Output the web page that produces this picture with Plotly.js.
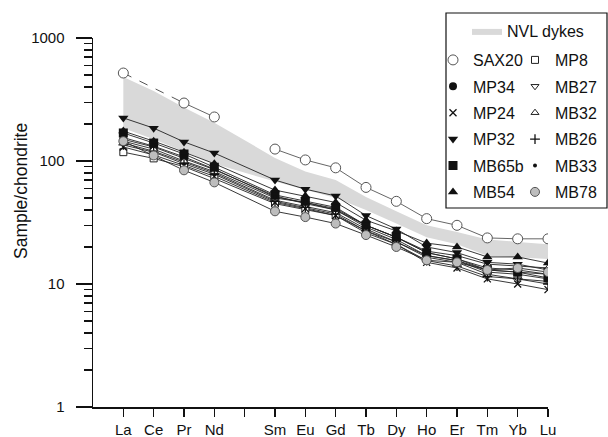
<!DOCTYPE html>
<html><head><meta charset="utf-8">
<script src="https://cdn.plot.ly/plotly-3.0.1.min.js"></script>
<style>html,body{margin:0;padding:0;background:#fff}#chart{width:608px;height:437px}</style>
</head><body><div id="chart"></div>
<script>
// ---- data ----
const elements   = ['La','Ce','Pr','Nd','Pm','Sm','Eu','Gd','Tb','Dy','Ho','Er','Tm','Yb','Lu'];
const tickLabels = ['La','Ce','Pr','Nd','','Sm','Eu','Gd','Tb','Dy','Ho','Er','Tm','Yb','Lu'];
const nvlUpper = [482,370,272,205,null,106,82,70,51,39,30,26.5,23,22,21];
const nvlLower = [185,150,120,95,null,68,58,50,40,31,24,21,17,16.5,16];
const SAX20 = [519,null,296,228,null,125,102,88,61,47,34,30,23.7,23.3,23.3];
const MP8   = [118,105,90,72,null,45,40,36,27,22,17,15.5,13,12.5,12];
const MP34  = [150,130,105,85,null,52,45,40,30,24,18,16,13.5,13,12];
const MB27  = [140,120,98,80,null,48,43,38,28,22,16.5,15,12,11,10.5];
const MP24  = [130,112,92,75,null,46,41,36,26,21,15,13.5,11,10,9];
const MB32  = [145,125,100,82,null,50,46,41,30,24,18.5,17,14.5,14,13.5];
const MP32  = [224,185,143,116,null,70,59,52,36,28,20,18,15,14.5,13];
const MB26  = [135,118,95,78,null,47,42,37,27,21,15.5,14,11.5,11,10];
const MB65b = [169,140,114,89,null,53,47,42,30,24,18,16,13,12.5,11.2];
const MB33  = [155,132,108,86,null,51,46,40,29,23,17,15.5,12.5,12,11];
const MB54  = [175,145,118,95,null,58,52,46,33,27,21.5,20,16.6,16.6,14.8];
const MB78  = [145,111,84,67,null,39,35,31,25,20,15.6,15,13,13.5,12.5];

// ---- styles ----
const FONT = 'Liberation Sans, Arial, Helvetica, sans-serif';
const samples = [
  {name:'SAX20', y:SAX20, leg:'legend2', sym:'circle', size:10, fill:'#ffffff', lc:'#555', lw:1},
  {name:'MP8',   y:MP8,   leg:'legend3', sym:'square', size:7, fill:'#ffffff', lc:'#222', lw:1},
  {name:'MP34',  y:MP34,  leg:'legend2', sym:'circle', size:8, fill:'#111', lc:'#111', lw:0},
  {name:'MB27',  y:MB27,  leg:'legend3', sym:'triangle-down', size:7, fill:'#ffffff', lc:'#222', lw:1},
  {name:'MP24',  y:MP24,  leg:'legend2', sym:'x-thin-open', size:7, fill:'#111', lc:'#111', lw:1.3},
  {name:'MB32',  y:MB32,  leg:'legend3', sym:'triangle-up', size:7, fill:'#ffffff', lc:'#222', lw:1},
  {name:'MP32',  y:MP32,  leg:'legend2', sym:'triangle-down', size:9, fill:'#111', lc:'#111', lw:0},
  {name:'MB26',  y:MB26,  leg:'legend3', sym:'cross-thin-open', size:7, fill:'#111', lc:'#111', lw:1.3},
  {name:'MB65b', y:MB65b, leg:'legend2', sym:'square', size:9, fill:'#111', lc:'#111', lw:0},
  {name:'MB33',  y:MB33,  leg:'legend3', sym:'circle', size:4, fill:'#111', lc:'#111', lw:0},
  {name:'MB54',  y:MB54,  leg:'legend2', sym:'triangle-up', size:9, fill:'#111', lc:'#111', lw:0},
  {name:'MB78',  y:MB78,  leg:'legend3', sym:'circle', size:9, fill:'#bdbdbd', lc:'#555', lw:1}
];

const traces = [];
// NVL band polygon built from the bound arrays
const bx = [], by = [];
elements.forEach((e,i)=>{ if(nvlUpper[i]!=null){ bx.push(e); by.push(nvlUpper[i]); } });
for(let i=elements.length-1;i>=0;i--){ if(nvlLower[i]!=null){ bx.push(elements[i]); by.push(nvlLower[i]); } }
traces.push({type:'scatter', mode:'lines', x:bx, y:by, fill:'toself', fillcolor:'#d9d9d9',
  line:{width:0, color:'#d9d9d9'}, name:'NVL dykes', legend:'legend', showlegend:true, hoverinfo:'skip'});

// dashed link over the missing Ce value of SAX20
const gapIdx = [0,2];
traces.push({type:'scatter', mode:'lines', x:gapIdx.map(i=>elements[i]), y:gapIdx.map(i=>SAX20[i]),
  line:{color:'#555', width:1, dash:'dash'}, showlegend:false, legend:'legend2', hoverinfo:'skip'});

samples.forEach(s=>{
  traces.push({type:'scatter', mode:'lines', x:elements, y:s.y, connectgaps:(s.name!=='SAX20'),
    line:{color: s.name==='SAX20' ? '#555' : '#222', width:0.9}, showlegend:false, legend:s.leg,
    legendgroup:s.name, hoverinfo:'skip'});
});
samples.forEach(s=>{
  traces.push({type:'scatter', mode:'markers', x:elements, y:s.y, name:s.name, legend:s.leg,
    legendgroup:s.name,
    marker:{symbol:s.sym, size:s.size, color:s.fill, line:{color:s.lc, width:s.lw}}});
});

const px = v => (v-93)/455, py = v => (407-v)/369;
const legBase = {bgcolor:'rgba(0,0,0,0)', borderwidth:0, font:{family:FONT, size:16, color:'#111'},
  orientation:'v', xanchor:'left', yanchor:'top', tracegroupgap:2.6, itemclick:false, itemdoubleclick:false};

const layout = {
  width:608, height:437,
  margin:{l:93, r:60, t:38, b:30, autoexpand:false},
  paper_bgcolor:'#fff', plot_bgcolor:'#fff',
  font:{family:FONT, color:'#111'},
  xaxis:{type:'category', categoryarray:elements, categoryorder:'array', range:[-1,14],
    tickmode:'array', tickvals:elements, ticktext:tickLabels,
    showline:true, linecolor:'#111', linewidth:1.5, ticks:'outside', ticklen:8, tickwidth:1.3, tickcolor:'#111',
    showgrid:false, zeroline:false, tickfont:{family:FONT, size:15, color:'#111'}},
  yaxis:{type:'log', range:[0,3], tickmode:'linear', tick0:0, dtick:1, exponentformat:'none',
    showline:true, linecolor:'#111', linewidth:1.5, ticks:'outside', ticklen:16, tickwidth:1.5, tickcolor:'#111',
    ticklabelstandoff:8,
    minor:{dtick:'D1', ticks:'outside', ticklen:8, tickwidth:1.2, tickcolor:'#111', showgrid:false},
    showgrid:false, zeroline:false, tickfont:{family:FONT, size:15, color:'#111'}},
  showlegend:true,
  legend: Object.assign({}, legBase, {x:px(467), y:py(14)}),
  legend2: Object.assign({}, legBase, {x:px(433), y:py(43)}),
  legend3: Object.assign({}, legBase, {x:px(515), y:py(43)}),
  shapes:[{type:'rect', xref:'paper', yref:'paper', x0:px(446), x1:px(607), y0:py(208), y1:py(13),
    line:{color:'#111', width:1.2}, fillcolor:'rgba(0,0,0,0)', layer:'above'}],
  annotations:[{text:'Sample/chondrite', xref:'paper', yref:'paper', x:px(21), y:py(191),
    textangle:-90, showarrow:false, xanchor:'center', yanchor:'middle',
    font:{family:FONT, size:17.5, color:'#111'}}]
};

Plotly.newPlot('chart', traces, layout, {staticPlot:true, displayModeBar:false});
</script>
</body></html>
